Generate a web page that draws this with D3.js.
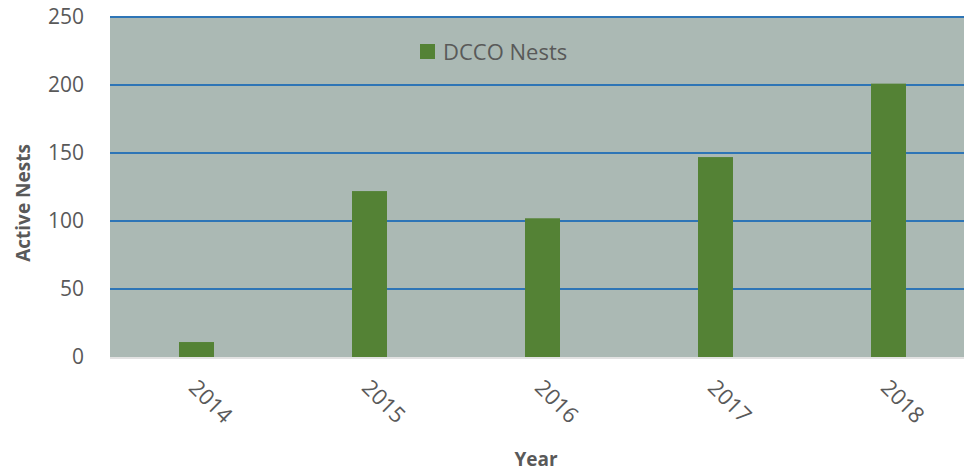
<!DOCTYPE html>
<html>
<head>
<meta charset="utf-8">
<script src="https://cdn.jsdelivr.net/npm/d3@7"></script>
<style>
  html, body { margin: 0; padding: 0; background: #ffffff; }
  svg { display: block; font-family: "Open Sans", "Noto Sans", sans-serif; }
</style>
</head>
<body>
<svg id="chart" width="964" height="474"></svg>
<script>
// Active double-crested cormorant nests by survey year
const years = ["2014", "2015", "2016", "2017", "2018"];
const nests = [11, 122, 102, 147, 201];
const yTicks = [0, 50, 100, 150, 200, 250];
const seriesName = "DCCO Nests";

const svg = d3.select("#chart");
const plot = { left: 110, top: 17, width: 865, height: 340 };

const x = d3.scaleBand().domain(years).range([plot.left, plot.left + plot.width]).paddingInner(0.8).paddingOuter(0.4);
const y = d3.scaleLinear().domain([0, 250]).range([plot.top + plot.height, plot.top]);

// plot background
svg.append("rect")
  .attr("x", plot.left).attr("y", plot.top)
  .attr("width", plot.width).attr("height", plot.height)
  .attr("fill", "#abb9b4");

// horizontal gridlines
svg.append("g")
  .selectAll("line")
  .data(yTicks.filter(d => d > 0))
  .join("line")
  .attr("x1", plot.left).attr("x2", plot.left + plot.width)
  .attr("y1", d => y(d)).attr("y2", d => y(d))
  .attr("stroke", "#2e75b6").attr("stroke-width", 2);

// baseline
svg.append("line")
  .attr("x1", plot.left).attr("x2", plot.left + plot.width)
  .attr("y1", y(0) + 1).attr("y2", y(0) + 1)
  .attr("stroke", "#d9d9d9").attr("stroke-width", 1.5);

// bars
const barW = 35;
svg.append("g")
  .selectAll("rect")
  .data(years.map((yr, i) => ({ yr, v: nests[i] })))
  .join("rect")
  .attr("x", d => x(d.yr) + x.bandwidth() / 2 - barW / 2)
  .attr("width", barW)
  .attr("y", d => y(d.v))
  .attr("height", d => y(0) - y(d.v))
  .attr("fill", "#548235");

// y axis labels
const yAxis = d3.axisLeft(y).tickValues(yTicks).tickSize(0).tickPadding(26);
const gy = svg.append("g").attr("transform", `translate(${plot.left},0)`).call(yAxis);
gy.select(".domain").remove();
gy.selectAll("text")
  .attr("fill", "#595959")
  .style("font-size", "21px")
  .style("font-family", "'Open Sans', sans-serif");

// x axis labels, rotated 45 degrees
const xAxis = d3.axisBottom(x).tickSize(0).tickPadding(0);
const gx = svg.append("g").attr("transform", `translate(0,${y(0)})`).call(xAxis);
gx.select(".domain").remove();
gx.selectAll("text")
  .attr("fill", "#595959")
  .style("font-size", "22px")
  .style("font-family", "'Open Sans', sans-serif")
  .attr("text-anchor", "start")
  .attr("dy", "0")
  .attr("transform", "translate(-9,32) rotate(45)");

// axis titles
svg.append("text")
  .attr("transform", `translate(30,${plot.top + plot.height / 2 + 16}) rotate(-90)`)
  .attr("text-anchor", "middle")
  .attr("fill", "#595959")
  .style("font-size", "19px")
  .style("font-weight", "bold")
  .text("Active Nests");

svg.append("text")
  .attr("x", 536).attr("y", 466)
  .attr("text-anchor", "middle")
  .attr("fill", "#595959")
  .style("font-size", "19px")
  .style("font-weight", "bold")
  .text("Year");

// legend
const legend = svg.append("g").attr("transform", "translate(420,44)");
legend.append("rect").attr("width", 15).attr("height", 15).attr("fill", "#548235");
legend.append("text")
  .attr("x", 23).attr("y", 16)
  .attr("fill", "#595959")
  .style("font-size", "22px")
  .text(seriesName);
</script>
</body>
</html>
